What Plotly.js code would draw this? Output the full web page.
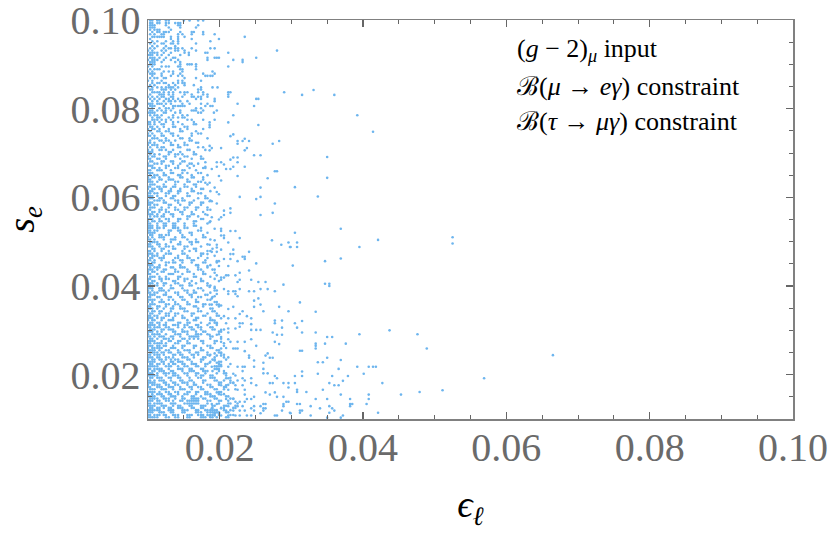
<!DOCTYPE html>
<html><head><meta charset="utf-8">
<script src="https://cdn.plot.ly/plotly-3.0.1.min.js"></script>
<style>html,body{margin:0;padding:0;background:#fff}</style></head>
<body><div id="chart" style="width:830px;height:540px"></div>
<script>
const seRows = [999,993,988,983,978,973,968,962,957,952,947,941,936,931,926,921,915,910,905,900,895,889,884,879,874,869,863,858,853,848,843,837,832,827,822,817,811,806,801,796,791,785,780,775,770,765,759,754,749,744,739,733,728,723,718,713,707,702,697,692,687,681,676,671,666,661,655,650,645,640,635,629,624,619,614,609,603,598,593,588,583,577,572,567,562,557,551,546,541,536,531,525,520,515,510,505,499,494,489,484,479,473,468,463,458,453,447,442,437,432,427,421,416,411,406,401,395,390,385,380,375,369,364,359,354,349,343,338,333,328,323,317,312,307,302,297,291,286,281,276,271,265,260,255,250,245,239,234,229,224,219,213,208,203,198,193,187,182,177,172,167,161,156,151,146,141,135,130,125,120,115,109,104];
const epsRows = [
[103,106,113,116,125,129,150,158,170,177],
[103,106,113,116,125,129,138,142,145],
[103,106,109,125,142,145,170],
[103,106,109,129,145,167],
[103,109,113,116,132],
[106,113,116,122,125,129,145,161,164,177],
[103,109,119,122,142,148,161,177,193],
[106,109,113,116,119,122,132,142,151,235],
[103,132,142,161,199],
[106,113,125,135,142,187],
[103,109,119,122,132,135,142,167],
[106,113,125,138],
[103,109,122,129,132,138,142,148,161,187,193],
[100,106,119,125,138,142,151,167,280],
[103,106,109,113,122,132,151,157,180,183,212],
[100,103,106,113,119,129,145,157],
[103,106,109,116,125,135,138,183,193,196,199,251],
[100,106,109,113,122,132,142,183,219,232],
[103,106,109,119,138,145,232],
[103,106,109,145,155,158,161,167],
[100,106,119,125,129,142,145,167,212],
[103,109,113,116,145,148,167],
[100,106,122,129,135,148,190],
[103,106,109,119,135,145,177,193],
[106,119,132,142,148,180,183,187,190],
[103,109,113,122,125,151,167],
[100,106,119,142,148,174],
[106,113,116,122,125,135,142,148,151],
[103,109,129,138,151,164],
[100,106,113,119,125,129,132,135,142,174,190,197],
[103,106,119,122,125,132,138,170,174],
[106,109,113,116,122,129,135,145,151,155,170,177,212,215,290],
[103,116,119,122,129,135,151,161,177,183,212],
[100,106,113,119,122,132,135,148,161,164,170,174,183,212],
[103,109,116,125,129,135,142,167,174,193,251,254],
[106,113,122,129,132,138,145,155,193],
[100,103,106,113,116,119,125,132,148,158,174,183,225],
[103,106,109,122,135,138,142,145,148,151,180,187,190,248],
[100,106,116,125,129,135,167,174],
[103,106,113,119,125,132,145,161,167,164,177,196],
[100,103,106,109,122,125,138,145,170,174,192],
[103,109,113,119,135,155,148,219],
[106,113,116,129,135,142,148,151],
[106,109,113,119,125,132,155,161,177,193],
[100,103,109,116,125,135,142,164],
[100,103,109,119,122,135,148,164,167],
[103,106,113,122,135,138,151,155],
[100,106,109,116,129,145,155,177],
[103,113,116,125,129,145,148,167],
[100,106,119,132,135,161,170,174],
[100,103,109,119,122,135,142,161],
[106,109,113,125,145,148,158,183],
[103,116,119,125,129,138,158,161],
[100,103,109,122,132,151,167,170],
[100,106,109,113,132,135,142,151,155],
[103,113,119,122,142,145,170,177],
[100,106,116,119,125,135,155,158,180],
[100,103,106,129,132,145,164],
[103,109,116,129,138,142,148,164,167],
[100,106,109,122,125,138,151,155,174],
[100,103,113,116,125,145,161,174,177],
[103,106,119,122,132,135,148,151],
[100,109,113,119,135,145,158,161,170],
[100,103,106,125,129,142,155,164],
[106,109,116,125,138,142,158,177,180],
[100,103,113,116,119,132,148,151,167],
[100,103,106,122,132,135,148,155,170,174],
[103,109,113,122,125,142,145,161,183],
[100,106,109,116,129,145,148,161,164,177],
[100,103,116,119,129,132,135,155,177],
[100,103,106,113,125,138,142,155,158,170,174],
[103,106,109,122,138,151,164,167,183],
[100,103,113,116,122,125,135,138,151,155,167],
[100,106,109,116,119,132,145,161,174,177],
[103,106,119,129,132,142,145,161,164,187],
[100,103,109,113,125,129,142,155,170,174],
[100,103,106,113,125,135,138,155,158,180],
[103,106,116,119,132,135,148,170,180,183],
[100,109,113,116,122,138,142,148,151,164,187],
[100,103,106,122,125,142,158,161,174,177],
[100,103,109,113,129,132,145,158,174],
[103,106,109,119,129,138,151,155,167,170,183],
[100,103,116,119,125,138,142,151,167,183,187],
[100,106,109,116,125,129,145,148,161,177],
[100,103,106,113,122,132,135,148,161,164,180],
[103,109,113,119,122,135,155,158,170],
[100,103,106,116,125,129,142,145,155,174,177],
[100,106,109,116,119,129,142,164,167,187],
[100,103,113,122,125,135,138,151,164,183],
[100,103,106,113,122,125,135,138,151,164,167],
[100,103,106,113,116,122,135,138,142,151,155,174],
[100,103,109,113,129,132,142,145,170,174],
[100,103,106,109,129,145,158,161,183],
[103,106,116,119,125,129,148,161,177],
[100,106,116,119,122,138,148,151,177,180],
[100,103,109,122,132,135,138,155,167,187],
[103,106,109,113,132,145,158,161,167,170],
[100,103,113,116,125,142,145,161,183],
[100,103,106,116,125,129,135,151,155,174],
[106,109,119,122,135,138,151,164,167,190],
[100,103,109,119,129,148,158,167,183,187],
[100,103,106,113,125,129,132,148,151,174,177],
[100,106,109,113,122,142,155,174,193],
[103,106,116,119,122,138,142,155,158,170,183],
[100,103,109,119,135,145,148,161,164,180],
[100,106,109,125,129,135,138,148,161,177,180,196],
[100,103,106,116,125,145,167,170,187],
[103,109,113,116,132,135,145,148,151,170,183],
[100,103,106,113,122,125,138,155,170,174,190,193],
[100,106,109,119,122,138,142,155,158,177],
[100,103,113,129,132,135,148,164,177,180],
[103,106,109,116,125,142,145,164,167,187],
[100,103,116,119,125,129,142,151,155,174,193],
[100,106,109,119,135,138,151,161,174,177,199],
[100,103,106,113,122,125,138,142,158,167,183],
[103,109,113,122,132,145,148,158,161,183,187],
[100,103,106,116,119,132,135,148,170,174,193],
[100,106,116,119,122,129,151,155,164,177,193,196],
[100,103,109,113,125,138,142,155,164,167,187],
[103,106,109,122,125,142,158,161,180,183],
[100,103,113,116,129,132,145,148,161,170,174,190],
[100,103,106,109,119,129,135,148,151,167,183,187],
[100,106,116,119,122,138,155,167,170,193,196],
[103,106,109,125,129,138,142,155,158,177,180],
[100,103,113,116,125,135,145,164,167,177,199],
[100,103,106,113,122,132,135,145,148,151,170,187,190],
[100,106,109,116,119,132,151,155,170,174,190],
[103,106,116,125,129,138,142,161,164,183,196],
[100,103,109,113,125,129,138,148,161,177,180,196,199],
[100,103,106,113,119,122,135,148,151,167,170,187],
[100,106,109,119,129,132,135,155,164,167,187,190],
[103,106,113,116,125,142,145,155,158,174,193,196],
[100,103,106,109,116,122,125,135,138,142,151,155,167,170,183,196],
[100,103,109,113,116,125,129,142,151,158,161,170,174,187,190],
[103,106,109,119,122,129,132,135,148,161,164,174,190,193,206],
[100,103,106,113,119,135,138,148,151,155,167,177,180,199,202],
[100,106,109,113,116,125,138,142,145,155,167,170,174,183,199],
[100,103,109,116,119,122,132,135,145,158,161,164,167,170,187,190],
[103,106,113,122,125,129,135,148,151,158,164,170,187,202],
[100,103,106,109,119,129,132,142,145,155,174,177,193,196],
[100,103,109,113,116,119,125,138,142,155,158,177,193,206],
[100,103,106,113,116,122,125,135,148,151,164,167,183,187],
[100,106,109,113,116,119,132,135,138,148,164,174,187,190,209],
[100,103,106,109,116,125,129,142,151,155,158,174,177,196,199],
[103,106,109,113,119,122,129,132,142,145,158,167,170,183,199,202],
[100,103,109,113,116,122,135,138,145,148,161,164,170,183,187,206],
[100,103,106,113,116,125,129,135,148,151,155,164,177,180,193,206,212],
[100,106,109,116,119,125,132,138,142,155,158,174,177,190,193,209],
[100,103,106,109,119,122,132,135,142,145,148,161,174,187,199,202],
[103,106,113,116,122,129,135,138,148,151,161,164,167,180,183,199,215],
[100,103,106,109,113,125,129,132,142,151,155,167,170,180,193,196,199,202],
[100,103,109,113,116,119,129,142,145,148,158,161,174,177,193,196,199],
[100,106,109,116,119,122,132,135,148,158,161,164,177,180,183,190,206],
[100,103,106,113,122,125,129,135,138,151,155,167,170,180,196,206,209],
[100,103,106,109,113,125,135,138,142,155,167,174,177,187,190,209,222],
[103,106,113,116,119,129,132,142,145,158,170,174,187,190,193,215],
[100,103,109,116,119,122,132,145,148,158,161,177,180,193,196,206],
[100,103,106,109,122,125,135,138,148,151,155,164,177,199,202,215,219],
[100,106,109,113,116,125,129,138,142,155,164,167,183,187,199,212],
[100,103,113,116,119,129,132,135,145,158,161,170,174,187,190,206,209],
[103,106,109,119,122,125,135,145,148,151,161,174,177,193,196,206,222],
[100,103,106,109,116,125,129,138,142,155,158,167,170,180,183,199,202],
[100,106,113,116,119,129,132,142,151,155,167,180,183,187,199,206],
[100,103,106,109,119,122,132,135,138,148,161,164,174,187,190,193,209,212],
[103,106,109,113,122,125,129,138,148,151,161,164,167,170,177,180,193,196,215,219],
[100,103,106,113,116,125,129,135,145,148,155,158,161,164,167,170,183,187,199,202,212],
[100,103,109,113,116,119,132,135,138,151,155,158,161,164,167,170,183,199,212,215,225],
[100,103,106,109,119,122,125,135,142,145,158,161,174,177,180,190,193,206,209,222],
[103,106,113,116,122,129,132,142,145,148,161,164,174,177,190,202,206,219,222],
[100,103,106,109,113,116,129,132,135,148,151,155,167,170,180,183,187,190,193,196,206,215],
[100,103,106,116,119,122,132,135,148,151,167,170,174,183,187,190,193,196,199,209,212],
[100,103,109,113,116,122,125,135,138,142,155,158,161,170,174,177,183,187,190,193,199,215,219],
[100,103,106,109,113,125,129,138,142,155,158,174,177,180,187,190,196,209,212]
];
const midEps = [212,254,186,186,186,219,215,225,225,235,241,232,274,283,238,235,202,186,189,186,248,257,219,225,215,225,202,206,196,196,180,180,235,209,215,219,189,277,280,199,225,267,202,180,186,193,257,196,199,228,257,251,186,189,277,196,215,206,215,274,206,202,199,257,189,183,186,
193,202,202,215,222,202,206,228,206,273,296,212,286,299,193,186,196,196,219,202,241,189,196,183,215,219,232,235,235,215,206,196,199,225,251,199,183,212,241,193,228,209,212,222,196,202,206,202,228,244,254,264,225,289,193,186,206,228,257,267,241,248,212,277,212,219,222,222,225,196,193,189,254,248,186,189,196,199,202,219,212,248,257,283,261,296,232,228,193,206,202,238,244,222,212,193,186,196,209,228,232,277,277,287,244,
212,222,228,244,251,257,274,287,280,287,212,202,186,196,202,202,212,215,225,235,244,206,219,222,225,235,277,283,251,202,202,202,186,193,196,264,267,270,274,241,241,248,261,186,193,196,202,225,212,232,235,248,261,261,267,232,196,199,189,277,280,219,209,212,244,215,225,235,232,270,274,289,296,296,244,251,219,222,232,202,209,264,277,270,280,289,235,225,212,196,248,244,235,238,202,209,219,222,228,235,289,293,296,261,264,257,248,244,212,225,232,189,196,189,202,261,264,289,277,287,280,299,235,248,257,261,219,228,209,199,193,238,244,212,222,228,202,193,186];
const midSe = [769,763,769,763,758,742,738,727,721,732,727,727,721,727,711,706,711,716,711,706,695,695,690,690,685,679,679,674,679,669,679,669,669,664,664,669,664,659,659,648,648,643,638,633,633,622,622,612,607,601,601,596,591,591,586,586,575,570,565,565,560,555,550,560,555,560,544,
529,529,524,524,524,514,514,508,508,503,498,498,493,488,503,493,493,487,482,482,477,477,477,472,472,472,466,466,461,461,461,456,456,456,451,445,445,445,435,430,430,424,424,424,424,419,419,414,414,414,409,409,409,403,398,398,393,393,393,393,388,388,388,388,382,388,388,382,377,382,377,372,372,367,358,358,358,358,356,353,348,353,358,353,343,343,343,337,343,332,327,332,327,327,327,322,316,316,316,316,316,322,316,322,314,
304,304,308,301,301,301,295,306,290,290,295,301,290,290,285,274,280,274,274,274,280,265,259,259,259,253,274,269,265,259,248,243,243,248,243,243,248,238,238,243,238,232,227,227,232,227,222,218,218,218,218,218,213,203,203,208,213,208,218,197,192,202,192,192,192,187,187,187,192,181,181,181,181,171,181,176,181,176,176,176,176,160,160,155,150,150,166,166,166,160,150,145,155,145,155,145,145,139,139,139,134,139,139,134,134,129,129,124,129,129,129,134,134,124,124,124,124,129,108,119,108,113,119,119,113,119,119,119,119,113,113,108,108,108,108,108,108,108,108];
const outerEps = [315,331,360,392,414,350,350,305,337,305,369,421,308,298,308,395,347,369,302,347,353,353,312,334,315,305,308,315,334,350,357,395,437,476,489,347,376,334,334,334,312,315,350,337,344,369,392,408,414,418,366,315,337,305,315,357,379,401,372,305,353,360,366,427,344,308,308,321,369,408,453,479,334,350,382,408,308,312,382,385,382,405,327,353,340,357,360,312,315,312,353,298,421,327,372,369,350,665,569,511,525,525];
const outerSe = [831,842,831,785,748,691,644,623,602,520,529,504,498,488,488,488,456,462,446,405,405,400,363,342,321,316,306,295,295,285,285,291,300,291,259,270,270,270,265,259,254,254,238,228,228,233,218,218,218,218,213,207,202,197,197,197,197,202,186,181,181,176,176,181,166,166,161,161,155,155,155,161,145,145,145,145,134,134,134,134,129,134,129,129,124,124,119,119,119,114,114,114,114,108,108,103,103,244,192,165,510,496];
const xTickLabels = ['0.02','0.04','0.06','0.08','0.10'];
const yTickLabels = ['0.02','0.04','0.06','0.08','0.10'];
const xTickVals = [0.02,0.04,0.06,0.08,0.10];
const yTickVals = [0.02,0.04,0.06,0.08,0.10];

const xs = [], ys = [];
seRows.forEach((s, i) => (epsRows[i] || []).forEach(e => { xs.push(e / 1e4); ys.push(s / 1e4); }));
midEps.forEach((e, i) => { if (midSe[i] !== undefined) { xs.push(e / 1e4); ys.push(midSe[i] / 1e4); } });
outerEps.forEach((e, i) => { xs.push(e / 1e4); ys.push(outerSe[i] / 1e4); });

const tickFont = {family: '"Liberation Serif", serif', size: 40, color: '#6a6a6a'};
const axisCommon = {
  range: [0.01, 0.1], showgrid: false, zeroline: false,
  showline: true, linecolor: '#808080', linewidth: 1.5, mirror: 'allticks',
  ticks: 'inside', ticklen: 7, tickwidth: 1.2, tickcolor: '#666',
  tickmode: 'array', tickfont: tickFont, ticklabeloverflow: 'allow',
  minor: {tickmode: 'linear', tick0: 0, dtick: 0.005, ticks: 'inside', ticklen: 4, tickwidth: 1, tickcolor: '#666', showgrid: false}
};
const legendLines = [
  '(<i>g</i> − 2)<sub><i>μ</i></sub> input',
  'ℬ(<i>μ</i> → <i>eγ</i>) constraint',
  'ℬ(<i>τ</i> → <i>μγ</i>) constraint'
];
const legendY = [0.0932, 0.0849, 0.0770];

Plotly.newPlot('chart', [{
  type: 'scatter', mode: 'markers', x: xs, y: ys,
  marker: {size: 2.6, color: '#6db5ee', line: {width: 0}}, hoverinfo: 'skip'
}], {
  width: 830, height: 540, showlegend: false,
  margin: {l: 147.5, r: 37, t: 19.5, b: 121},
  paper_bgcolor: '#fff', plot_bgcolor: '#fff',
  xaxis: Object.assign({}, axisCommon, {tickvals: xTickVals, ticktext: xTickLabels, ticklabelstandoff: -8,
    title: {text: '<i>ϵ</i><sub><i>ℓ</i></sub>', font: {family: '"Liberation Serif", serif', size: 38, color: '#000'}, standoff: 22}}),
  yaxis: Object.assign({}, axisCommon, {tickvals: yTickVals, ticktext: yTickLabels, ticklabelstandoff: -2,
    title: {text: '<i>s</i><sub><i>e</i></sub>', font: {family: '"Liberation Serif", serif', size: 38, color: '#000'}, standoff: 24}}),
  annotations: legendLines.map((t, i) => ({
    text: t, x: 0.0612, y: legendY[i], xref: 'x', yref: 'y', xanchor: 'left', yanchor: 'middle',
    showarrow: false, font: {family: '"Liberation Serif", serif', size: 26, color: '#000'}
  }))
}, {displayModeBar: false, staticPlot: true});
</script></body></html>
